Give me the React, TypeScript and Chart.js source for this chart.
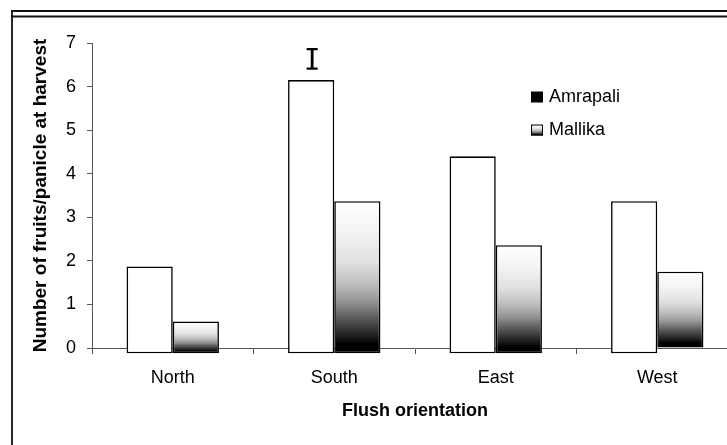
import React, { useEffect, useRef } from "react";
import { Chart, registerables } from "chart.js";

Chart.register(...registerables);

const categories = ["North", "South", "East", "West"];
const seriesNames = ["Amrapali", "Mallika"];
const amrapali = [1.87, 6.15, 4.4, 3.37];
const mallika = [0.61, 3.37, 2.36, 1.75];
const amrapaliBase = [-0.12, -0.12, -0.12, -0.12];
const mallikaBase = [-0.12, -0.12, -0.12, 0];
const lsdRange = [6.41, 6.86];
const lsdCategory = "South";
const yMin = 0;
const yMax = 7;
const yStep = 1;
const xTitle = "Flush orientation";
const yTitle = "Number of fruits/panicle at harvest";

const FONT = "'Liberation Sans', Arial, Helvetica, sans-serif";

function shade(ctx: CanvasRenderingContext2D, top: number, bottom: number) {
  if (!isFinite(top) || !isFinite(bottom) || top === bottom) return "#999999";
  const g = ctx.createLinearGradient(0, top, 0, bottom);
  g.addColorStop(0, "#ffffff");
  g.addColorStop(0.2, "#f4f4f4");
  g.addColorStop(0.4, "#e0e0e0");
  g.addColorStop(0.55, "#bcbcbc");
  g.addColorStop(0.66, "#959595");
  g.addColorStop(0.77, "#5a5a5a");
  g.addColorStop(0.88, "#222222");
  g.addColorStop(0.94, "#000000");
  g.addColorStop(1, "#000000");
  return g;
}

const framePlugin = {
  id: "frame",
  beforeDraw(chart: any) {
    const ctx = chart.ctx as CanvasRenderingContext2D;
    ctx.save();
    ctx.strokeStyle = "#111";
    ctx.lineWidth = 1.8;
    ctx.beginPath();
    ctx.moveTo(11, 11);
    ctx.lineTo(chart.width, 11);
    ctx.moveTo(11, 16.5);
    ctx.lineTo(chart.width, 16.5);
    ctx.moveTo(12, 10);
    ctx.lineTo(12, chart.height);
    ctx.stroke();
    ctx.restore();
  },
  beforeDatasetsDraw(chart: any) {
    const meta = chart.getDatasetMeta(1);
    meta.data.forEach((el: any) => {
      if (el.options && !Object.isFrozen(el.options)) {
        el.options.backgroundColor = shade(chart.ctx, el.y, el.base);
      }
    });
  },
};

const extrasPlugin = {
  id: "extras",
  afterDraw(chart: any) {
    const ctx = chart.ctx as CanvasRenderingContext2D;
    const y = chart.scales.y;
    const idx = categories.indexOf(lsdCategory);
    const el = chart.getDatasetMeta(0).data[idx];
    if (el) {
      const cx = el.x + 1;
      const y1 = y.getPixelForValue(lsdRange[0]);
      const y2 = y.getPixelForValue(lsdRange[1]);
      ctx.save();
      ctx.strokeStyle = "#000";
      ctx.lineWidth = 2.8;
      ctx.beginPath();
      ctx.moveTo(cx, y1);
      ctx.lineTo(cx, y2);
      ctx.stroke();
      ctx.lineWidth = 2.2;
      ctx.beginPath();
      ctx.moveTo(cx - 5.5, y1);
      ctx.lineTo(cx + 5.5, y1);
      ctx.moveTo(cx - 5.5, y2);
      ctx.lineTo(cx + 5.5, y2);
      ctx.stroke();
      ctx.restore();
    }
    ctx.save();
    ctx.font = `18px ${FONT}`;
    ctx.textBaseline = "middle";
    const lx = 531;
    const rows = [97, 130];
    ctx.fillStyle = "#000";
    ctx.fillRect(lx, rows[0] - 5.5, 12, 11);
    ctx.fillText(seriesNames[0], lx + 18, rows[0]);
    ctx.fillStyle = shade(ctx, rows[1] - 5.5, rows[1] + 5.5);
    ctx.fillRect(lx, rows[1] - 5.5, 12, 11);
    ctx.strokeStyle = "#000";
    ctx.lineWidth = 1;
    ctx.strokeRect(lx + 0.5, rows[1] - 5, 11, 10);
    ctx.fillStyle = "#000";
    ctx.fillText(seriesNames[1], lx + 18, rows[1]);
    ctx.restore();
  },
};

export default function App() {
  const ref = useRef<HTMLCanvasElement | null>(null);

  useEffect(() => {
    if (!ref.current) return;
    Chart.defaults.font.family = FONT;
    Chart.defaults.color = "#000";
    const chart = new Chart(ref.current, {
      type: "bar",
      data: {
        labels: categories,
        datasets: [
          {
            label: seriesNames[0],
            data: amrapali.map((v, i) => [amrapaliBase[i], v]) as any,
            backgroundColor: "#ffffff",
            borderColor: "#000",
            borderWidth: 1.6,
            borderSkipped: false,
            clip: false as any,
          },
          {
            label: seriesNames[1],
            data: mallika.map((v, i) => [mallikaBase[i], v]) as any,
            backgroundColor: (c: any) => {
              const ys = c.chart.scales && c.chart.scales.y;
              if (c.type !== "data" || !ys || !Array.isArray(c.raw)) return "#999999";
              const top = ys.getPixelForValue(c.raw[1]);
              const bottom = ys.getPixelForValue(c.raw[0]);
              return shade(c.chart.ctx, top, bottom);
            },
            borderColor: "#000",
            borderWidth: 1.6,
            borderSkipped: false,
            clip: false as any,
          },
        ],
      },
      options: {
        animation: false,
        responsive: false,
        devicePixelRatio: 1,
        layout: { padding: { left: 0, top: 43, right: 7, bottom: 0 } },
        plugins: { legend: { display: false }, tooltip: { enabled: false } },
        datasets: { bar: { categoryPercentage: 0.572, barPercentage: 1.0 } },
        scales: {
          x: {
            z: 1,
            grid: {
              offset: true,
              drawOnChartArea: false,
              drawTicks: true,
              tickLength: 6,
              color: "#555",
            },
            border: { display: true, color: "#555", width: 1 },
            ticks: { font: { size: 18 }, color: "#000", padding: 13 },
            title: {
              display: true,
              text: xTitle,
              font: { size: 18, weight: "bold" },
              color: "#000",
              padding: { top: 0, bottom: 23 },
            },
            afterFit: (s: any) => {
              s.height = 97;
            },
          },
          y: {
            min: yMin,
            max: yMax,
            grid: {
              drawOnChartArea: false,
              drawTicks: true,
              tickLength: 5,
              color: "#555",
            },
            border: { display: true, color: "#555", width: 1 },
            ticks: { stepSize: yStep, font: { size: 18 }, color: "#000", padding: 11 },
            title: {
              display: true,
              text: yTitle,
              font: { size: 19, weight: "bold" },
              color: "#000",
              padding: { top: 29, bottom: 0 },
            },
            afterFit: (s: any) => {
              s.width = 92;
            },
          },
        },
      },
      plugins: [framePlugin, extrasPlugin],
    });
    return () => chart.destroy();
  }, []);

  return (
    <div
      style={{
        position: "absolute",
        left: 0,
        top: 0,
        width: 727,
        height: 445,
        overflow: "hidden",
        background: "#fff",
      }}
    >
      <canvas ref={ref} width={745} height={445} style={{ width: 745, height: 445, display: "block" }} />
    </div>
  );
}
